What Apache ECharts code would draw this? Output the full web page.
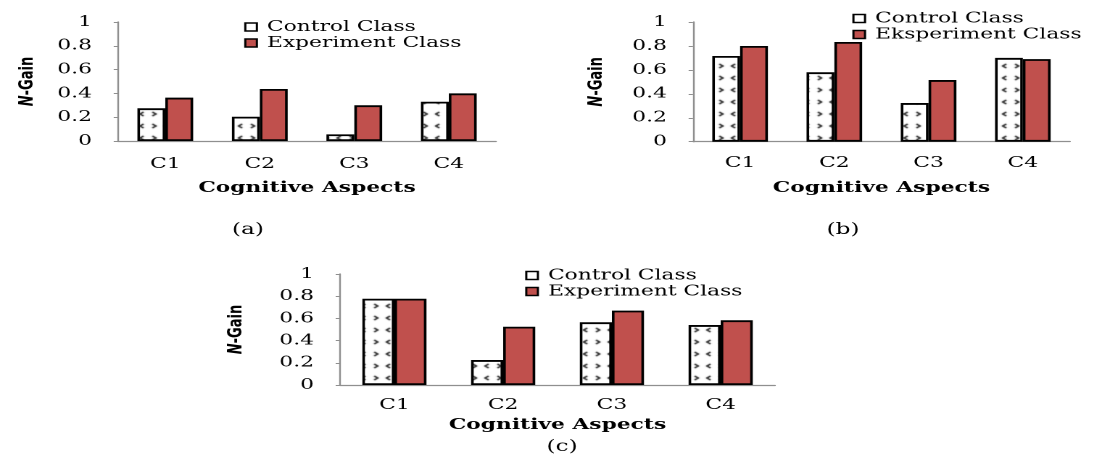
<!DOCTYPE html>
<html>
<head>
<meta charset="utf-8">
<script src="https://cdn.jsdelivr.net/npm/echarts@6/dist/echarts.min.js"></script>
<style>
html,body{margin:0;padding:0;background:#fff;overflow:hidden;}
#c{width:756px;height:474px;transform:scaleX(1.45);transform-origin:0 0;}
</style>
</head>
<body>
<div id="c"></div>
<script>
// ---- data ----
const categories = ['C1', 'C2', 'C3', 'C4'];
const controlA = [0.275, 0.204, 0.056, 0.33];
const experimentA = [0.364, 0.437, 0.30, 0.40];
const controlB = [0.716, 0.58, 0.323, 0.70];
const experimentB = [0.80, 0.833, 0.515, 0.69];
const controlC = [0.777, 0.225, 0.565, 0.54];
const experimentC = [0.777, 0.525, 0.67, 0.583];
const namesA = ['Control Class', 'Experiment Class'];
const namesB = ['Control Class', 'Eksperiment Class'];
const namesC = ['Control Class', 'Experiment Class'];
const panelLabels = ['(a)', '(b)', '(c)'];
const xAxisTitle = 'Cognitive Aspects';
const yAxisTitle = '{i|N}-Gain';

// ---- pattern for control bars ----
const pc = document.createElement('canvas');
pc.width = 17; pc.height = 12;
const g = pc.getContext('2d');
g.fillStyle = '#fff'; g.fillRect(0, 0, 17, 12);
g.strokeStyle = '#111'; g.lineWidth = 1.2;
g.beginPath(); g.moveTo(3, 4); g.lineTo(5.5, 6); g.lineTo(3, 8); g.stroke();
g.beginPath(); g.moveTo(14, 4); g.lineTo(11.5, 6); g.lineTo(14, 8); g.stroke();

const RED = '#C0504D';
const serif = 'DejaVu Serif';
const chart = echarts.init(document.getElementById('c'), null, {renderer: 'canvas', devicePixelRatio: 2});

const grids = [
  {left: 81.4, top: 22, width: 260.7, height: 119},
  {left: 477.9, top: 22, width: 260, height: 119.7},
  {left: 234.5, top: 274, width: 300, height: 111}
];
const labelMargins = [15.5, 14, 12.5];
const nameGapsX = [39.5, 39, 32.5];
const nameGapsY = [56, 60, 65];

const xAxes = grids.map((gr, i) => ({
  type: 'category', gridIndex: i, data: categories,
  axisLine: {lineStyle: {color: '#8f8f8f', width: 1.2}},
  axisTick: {show: false},
  axisLabel: {fontFamily: serif, fontSize: 15, color: '#000', margin: labelMargins[i]},
  name: xAxisTitle, nameLocation: 'middle', nameGap: nameGapsX[i],
  nameTextStyle: {fontFamily: serif, fontWeight: 'bold', fontSize: 15, color: '#000'}
}));
const yAxes = grids.map((gr, i) => ({
  type: 'value', gridIndex: i, min: 0, max: 1, interval: 0.2,
  splitLine: {show: false},
  axisLine: {show: true, lineStyle: {color: '#8f8f8f', width: 1.2}},
  axisTick: {show: true, length: 3, lineStyle: {color: '#8f8f8f'}},
  axisLabel: {fontFamily: serif, fontSize: 15, color: '#000', margin: 18},
  name: yAxisTitle, nameLocation: 'middle', nameGap: nameGapsY[i], nameRotate: 90,
  nameTextStyle: {fontFamily: 'DejaVu Sans', fontWeight: 'bold', fontSize: 13, color: '#000',
    rich: {i: {fontFamily: 'DejaVu Sans', fontWeight: 'bold', fontStyle: 'italic', fontSize: 13, color: '#000'}}}
}));

function bar(name, data, idx, isControl) {
  return {
    type: 'bar', name: name, data: data, xAxisIndex: idx, yAxisIndex: idx,
    barGap: '0%', barCategoryGap: '41%',
    itemStyle: {
      color: isControl ? {image: pc, repeat: 'repeat'} : RED,
      borderColor: '#000', borderWidth: 1.8
    },
    emphasis: {disabled: true}
  };
}
const series = [
  bar(namesA[0], controlA, 0, true), bar(namesA[1], experimentA, 0, false),
  bar(namesB[0], controlB, 1, true), bar(namesB[1], experimentB, 1, false),
  bar(namesC[0], controlC, 2, true), bar(namesC[1], experimentC, 2, false)
];

function legend(names, left, top) {
  return {
    orient: 'vertical', left: left, top: top, itemWidth: 8, itemHeight: 8, itemGap: 1,
    selectedMode: false,
    textStyle: {fontFamily: serif, fontSize: 15, color: '#000', padding: [0, 0, 0, 2]},
    data: [
      {name: names[0], icon: 'rect', itemStyle: {color: '#fff', borderColor: '#000', borderWidth: 1.5}},
      {name: names[1], icon: 'rect', itemStyle: {color: RED, borderColor: '#000', borderWidth: 1.5}}
    ]
  };
}

const captionPos = [[171, 230], [581.4, 230], [387.6, 447]];

chart.setOption({
  animation: false,
  grid: grids,
  xAxis: xAxes,
  yAxis: yAxes,
  legend: [legend(namesA, 163.4, 14.5), legend(namesB, 582.8, 6), legend(namesC, 357.2, 263)],
  graphic: panelLabels.map((t, i) => ({
    type: 'text', x: captionPos[i][0], y: captionPos[i][1],
    style: {text: t, fontFamily: serif, fontSize: 16, fill: '#000', textAlign: 'center', textVerticalAlign: 'middle'}
  })),
  series: series
});
</script>
</body>
</html>
